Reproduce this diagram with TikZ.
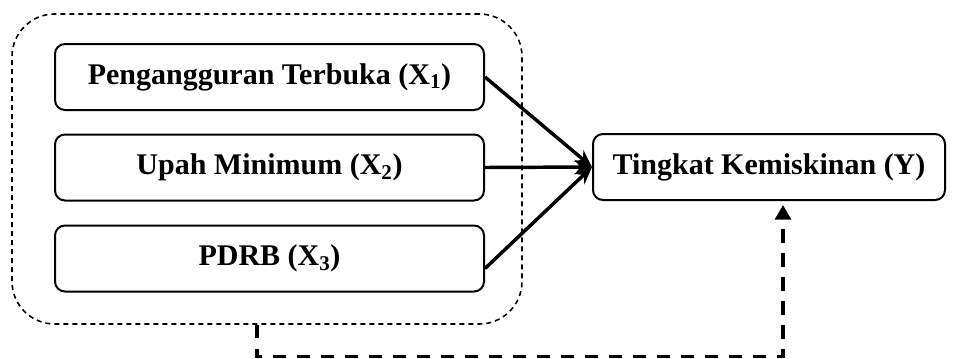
\documentclass[tikz,border=0pt]{standalone}
\usepackage{fontspec}
\setmainfont{Liberation Serif}
\usetikzlibrary{arrows.meta}
\usetikzlibrary{fit}

\begin{document}
\begin{tikzpicture}
				[x=0.75pt,y=-0.75pt,
				font=\fontsize{22.5}{27}\selectfont\bfseries,
				varbox/.style={draw,line width=1.5pt,rounded corners=7.5pt,minimum width=321.75pt,minimum height=49.5pt,inner sep=0pt},
				effectbox/.style={varbox,minimum width=264pt},
				groupbox/.style={draw,line width=1.2pt,dash pattern=on 3.75pt off 3pt,rounded corners=32pt,inner sep=0pt},
				effect/.style={line width=2.6pt,-{Stealth[length=13pt,width=11pt]}},
				feedback/.style={line width=2.4pt,dash pattern=on 10pt off 8pt,-{Triangle[length=11pt,width=12pt]}}]
				
				\useasboundingbox (0,0) rectangle (957,358);
				
				\node[groupbox,fit={(12,14) (522,324)}] (grp) {};
				
				\node[varbox] (x1) at (269.5,77) {Pengangguran Terbuka (X\textsubscript{1})};
				\node[varbox] (x2) at (269.5,167.5) {Upah Minimum (X\textsubscript{2})};
				\node[varbox] (x3) at (269.5,258.5) {PDRB (X\textsubscript{3})};
				
				\node[effectbox] (y) at (769,167) {Tingkat Kemiskinan (Y)};
				
				\draw[effect] (x1.east) -- (y.west);
				\draw[effect] (x2.east) -- (y.west);
				\draw[effect] ([yshift=-7.5pt]x3.east) -- (y.west);
				
				\draw[feedback] ([xshift=-7.5pt]grp.south) -- ++(0,32) -| ([xshift=10.5pt,yshift=-3pt]y.south);
			\end{tikzpicture}
\end{document}
